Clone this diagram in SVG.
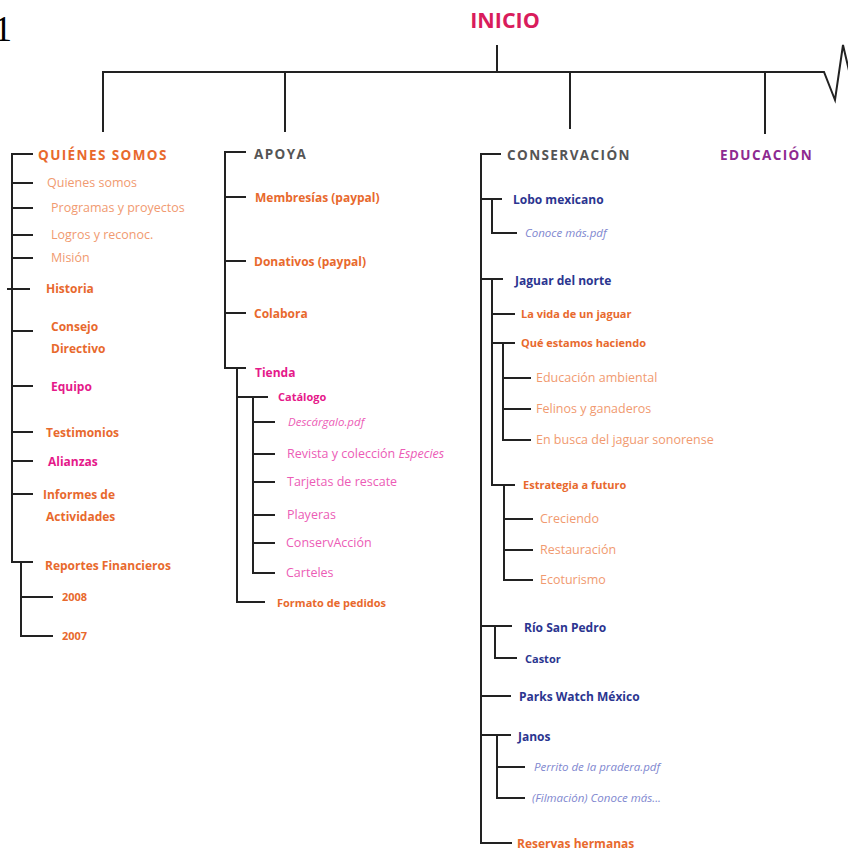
<svg xmlns="http://www.w3.org/2000/svg" width="848" height="852" viewBox="0 0 848 852">
<style>
text{font-family:"Open Sans","Noto Sans",sans-serif;}
.ln{fill:none;stroke:#222;stroke-width:2;stroke-linejoin:miter;}
.h1{font-size:13.5px;font-weight:bold;letter-spacing:1.4px;}
.b{font-size:12px;font-weight:bold;}
.s{font-size:11px;font-weight:bold;}
.r{font-size:12.5px;}
.it{font-size:11.5px;font-style:italic;}
.or{fill:#e8692d;}
.lo{fill:#f19a70;}
.mg{fill:#e5198a;}
.lm{fill:#ec5cb6;}
.nv{fill:#2b3590;}
.lb{fill:#8087cf;}
.gr{fill:#555;}
</style>
<text x="-6" y="41" style="font-family:'Liberation Serif',serif;font-size:36px" fill="#000">1</text>

<g id="connectors">
  <path class="ln" d="M497,45 V72 M103,132 V72 H824 L835,100 L843,45 L850,75"/>
  <path class="ln" d="M285,72 V132 M570,72 V129 M765,72 V134"/>
  <path class="ln" d="M33,154 H12 V562 H33 M12,183 H33 M12,208 H33 M12,235 H33 M12,258 H33 M7,289 H30 M12,331 H33 M12,386 H33 M12,432 H33 M12,461 H33 M12,494 H33"/>
  <path class="ln" d="M21,562 V636 H53 M21,597 H53"/>
  <path class="ln" d="M246,152 H225 V368 H246 M225,197 H246 M225,261 H246 M225,313 H246"/>
  <path class="ln" d="M237,368 V602 H265 M237,397 H268"/>
  <path class="ln" d="M253,397 V573 H275 M253,422 H275 M253,454 H275 M253,482 H275 M253,515 H275 M253,543 H275"/>
  <path class="ln" d="M501,154 H481 V843 H512 M481,199 H502 M481,279 H503 M481,626 H512 M481,696 H511 M481,735 H511"/>
  <path class="ln" d="M492,199 V233 H517"/>
  <path class="ln" d="M492,279 V485 H515 M492,314 H515 M492,343 H515"/>
  <path class="ln" d="M503,343 V440 H531 M503,378 H531 M503,409 H531"/>
  <path class="ln" d="M504,485 V580 H533 M504,519 H533 M504,550 H533"/>
  <path class="ln" d="M495,626 V658 H517"/>
  <path class="ln" d="M497,735 V798 H525 M497,767 H525"/>
</g>

<g id="inicio"><text x="505" y="28" text-anchor="middle" style="font-size:21.5px;font-weight:bold" fill="#d91c5c">INICIO</text></g>

<g id="quienes">
  <text class="h1 or" x="38" y="160">QUIÉNES SOMOS</text>
  <text class="r lo" x="47" y="187">Quienes somos</text>
  <text class="r lo" x="51" y="212">Programas y proyectos</text>
  <text class="r lo" x="51" y="239">Logros y reconoc.</text>
  <text class="r lo" x="51" y="262">Misión</text>
  <text class="b or" x="46" y="293">Historia</text>
  <text class="b or" x="51" y="331">Consejo</text>
  <text class="b or" x="51" y="353">Directivo</text>
  <text class="b mg" x="51" y="391">Equipo</text>
  <text class="b or" x="46" y="437">Testimonios</text>
  <text class="b mg" x="48" y="466">Alianzas</text>
  <text class="b or" x="43" y="499">Informes de</text>
  <text class="b or" x="46" y="521">Actividades</text>
  <text class="b or" x="45" y="570">Reportes Financieros</text>
  <text class="s or" x="62" y="601">2008</text>
  <text class="s or" x="62" y="640">2007</text>
</g>

<g id="apoya">
  <text class="h1 gr" x="254" y="159">APOYA</text>
  <text class="b or" x="255" y="202">Membresías (paypal)</text>
  <text class="b or" x="254" y="266">Donativos (paypal)</text>
  <text class="b or" x="254" y="318">Colabora</text>
  <text class="b mg" x="255" y="377">Tienda</text>
  <text class="s mg" x="278" y="401">Catálogo</text>
  <text class="it lm" x="288" y="426">Descárgalo.pdf</text>
  <text class="r lm" x="287" y="458">Revista y colección <tspan font-style="italic">Especies</tspan></text>
  <text class="r lm" x="287" y="486">Tarjetas de rescate</text>
  <text class="r lm" x="287" y="519">Playeras</text>
  <text class="r lm" x="286" y="547">ConservAcción</text>
  <text class="r lm" x="286" y="577">Carteles</text>
  <text class="s or" x="277" y="607">Formato de pedidos</text>
</g>

<g id="conservacion">
  <text class="h1 gr" x="507" y="160">CONSERVACIÓN</text>
  <text class="b nv" x="513" y="204">Lobo mexicano</text>
  <text class="it lb" x="525" y="237">Conoce más.pdf</text>
  <text class="b nv" x="515" y="285">Jaguar del norte</text>
  <text class="s or" x="521" y="318">La vida de un jaguar</text>
  <text class="s or" x="521" y="347">Qué estamos haciendo</text>
  <text class="r lo" x="536" y="382">Educación ambiental</text>
  <text class="r lo" x="536" y="413">Felinos y ganaderos</text>
  <text class="r lo" x="536" y="444">En busca del jaguar sonorense</text>
  <text class="s or" x="523" y="489">Estrategia a futuro</text>
  <text class="r lo" x="540" y="523">Creciendo</text>
  <text class="r lo" x="540" y="554">Restauración</text>
  <text class="r lo" x="540" y="584">Ecoturismo</text>
  <text class="b nv" x="524" y="632">Río San Pedro</text>
  <text class="s nv" x="525" y="663">Castor</text>
  <text class="b nv" x="519" y="701">Parks Watch México</text>
  <text class="b nv" x="518" y="741">Janos</text>
  <text class="it lb" x="534" y="771">Perrito de la pradera.pdf</text>
  <text class="it lb" x="532" y="802">(Filmación) Conoce más...</text>
  <text class="b or" x="517" y="848">Reservas hermanas</text>
</g>

<g id="educacion"><text class="h1" x="720" y="160" fill="#8e2a90">EDUCACIÓN</text></g>
</svg>
